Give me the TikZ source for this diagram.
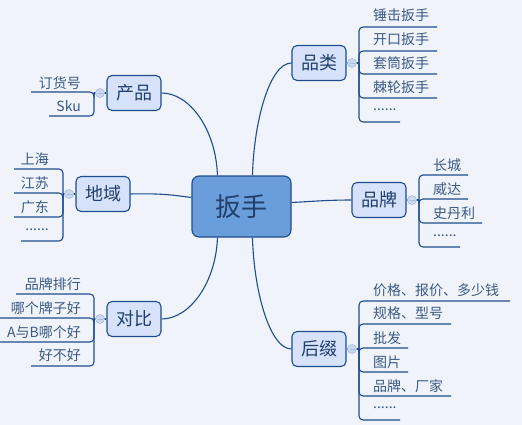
\documentclass[tikz,border=0pt]{standalone}
\usepackage{fontspec}
\newfontfamily\cjk{Noto Sans CJK SC}
\definecolor{bg}{HTML}{F0F3F9}
\definecolor{ln}{HTML}{1F4E8C}
\definecolor{mainfill}{HTML}{D5E2FA}
\definecolor{cfill}{HTML}{6A9EDA}
\definecolor{txt}{HTML}{213F6C}
\definecolor{subtxt}{HTML}{3A5A85}
\definecolor{knobfill}{HTML}{CBD8EE}
\definecolor{knobline}{HTML}{A7BCDD}
\begin{document}
\begin{tikzpicture}[x=1pt,y=-1pt,
  centre/.style={draw=ln, fill=cfill, line width=1.1pt, rounded corners=7pt, minimum width=99pt, minimum height=61pt, font=\cjk\fontsize{26}{28}\selectfont, text=txt, inner sep=0pt},
  topic/.style={draw=ln, fill=mainfill, line width=1.1pt, rounded corners=5pt, minimum width=54pt, minimum height=35pt, font=\cjk\fontsize{18}{20}\selectfont, text=txt, inner sep=0pt},
  sub/.style={font=\cjk\fontsize{14}{16}\selectfont, text=subtxt, inner sep=0pt},
  rsub/.style={sub, anchor=west},
  lsub/.style={sub, anchor=east},
  link/.style={draw=ln, line width=1.1pt},
  branch/.style={draw=ln, line width=1.1pt, rounded corners=4pt},
  knob/.style={circle, draw=knobline, fill=knobfill, minimum size=9pt, inner sep=0pt, line width=0.6pt,
    path picture={\draw[knobline, line width=0.7pt] ([xshift=2pt]path picture bounding box.west) -- ([xshift=-2pt]path picture bounding box.east);}}
]
\fill[bg] (0,0) rectangle (522,425);
\useasboundingbox (0,0) rectangle (522,425);

% main nodes
\node[centre] (c) at (241.5,206.5) {扳手};
\node[topic] (p1) at (134,93) {产品};
\node[topic] (p3) at (103,194) {地域};
\node[topic] (p5) at (134,319) {对比};
\node[topic] (p2) at (319,63) {品类};
\node[topic] (p4) at (379,200) {品牌};
\node[topic] (p6) at (319,349) {后缀};

% connectors from centre
\draw[link] (p1.east) .. controls (190,93) and (216,130) .. ([xshift=26pt]c.north west);
\draw[link] (p2.west) .. controls (270,63) and (254,120) .. ([xshift=61pt]c.north west);
\draw[link] (p3.east) .. controls (165,193) and (178,196) .. ([yshift=-22pt]c.north west);
\draw[link] (p4.west) .. controls (325,200) and (305,202) .. ([yshift=-27pt]c.north east);
\draw[link] (p5.east) .. controls (190,319) and (216,282) .. ([xshift=26pt]c.south west);
\draw[link] (p6.west) .. controls (270,349) and (254,292) .. ([xshift=61pt]c.south west);

% bracket points
\coordinate (j1) at (94,93);
\coordinate (j3) at (63,194);
\coordinate (j5) at (94,319);
\coordinate (j2) at (359,63);
\coordinate (j4) at (419,200);
\coordinate (j6) at (359,349);
\draw[link] (p1.west) -- (j1);
\draw[link] (p3.west) -- (j3);
\draw[link] (p5.west) -- (j5);
\draw[link] (p2.east) -- (j2);
\draw[link] (p4.east) -- (j4);
\draw[link] (p6.east) -- (j6);

% 产品
\node[lsub] (a1) at (81,83) {订货号};
\node[lsub] (a2) at (81,106) {Sku};
\coordinate (a1e) at (31,92);
\coordinate (a2e) at (49,116);
\draw[branch] (j1) |- (a1e);
\draw[branch] (j1) |- (a2e);

% 地域
\node[lsub] (b1) at (49,159) {上海};
\node[lsub] (b2) at (49,183) {江苏};
\node[lsub] (b3) at (49,207) {广东};
\node[lsub] (b4) at (49,230) {......};
\coordinate (b1e) at (14,169);
\coordinate (b2e) at (14,193);
\coordinate (b3e) at (14,217);
\coordinate (b4e) at (21,241);
\draw[branch] (j3) |- (b1e);
\draw[branch] (j3) |- (b2e);
\draw[branch] (j3) |- (b3e);
\draw[branch] (j3) |- (b4e);

% 对比
\node[lsub] (d1) at (81,284) {品牌排行};
\node[lsub] (d2) at (81,308) {哪个牌子好};
\node[lsub] (d3) at (81,332) {A与B哪个好};
\node[lsub] (d4) at (81,355) {好不好};
\coordinate (d1e) at (16,294);
\coordinate (d2e) at (0,318);
\coordinate (d3e) at (0,342);
\coordinate (d4e) at (31,366);
\draw[branch] (j5) |- (d1e);
\draw[branch] (j5) |- (d2e);
\draw[branch] (j5) |- (d3e);
\draw[branch] (j5) |- (d4e);

% 品类
\node[rsub] (e1) at (373,15) {锤击扳手};
\node[rsub] (e2) at (373,39) {开口扳手};
\node[rsub] (e3) at (373,63) {套筒扳手};
\node[rsub] (e4) at (373,87) {棘轮扳手};
\node[rsub] (e5) at (373,110) {......};
\coordinate (e1e) at (437,27);
\coordinate (e2e) at (437,51);
\coordinate (e3e) at (437,74);
\coordinate (e4e) at (437,98);
\coordinate (e5e) at (400,122);
\draw[branch] (j2) |- (e1e);
\draw[branch] (j2) |- (e2e);
\draw[branch] (j2) |- (e3e);
\draw[branch] (j2) |- (e4e);
\draw[branch] (j2) |- (e5e);

% 品牌
\node[rsub] (f1) at (433,165) {长城};
\node[rsub] (f2) at (433,189) {威达};
\node[rsub] (f3) at (433,213) {史丹利};
\node[rsub] (f4) at (433,236) {......};
\coordinate (f1e) at (468,175);
\coordinate (f2e) at (468,199);
\coordinate (f3e) at (482,223);
\coordinate (f4e) at (460,247);
\draw[branch] (j4) |- (f1e);
\draw[branch] (j4) |- (f2e);
\draw[branch] (j4) |- (f3e);
\draw[branch] (j4) |- (f4e);

% 后缀
\node[rsub] (g1) at (373,290) {价格、报价、多少钱};
\node[rsub] (g2) at (373,313) {规格、型号};
\node[rsub] (g3) at (373,338) {批发};
\node[rsub] (g4) at (373,362) {图片};
\node[rsub] (g5) at (373,386) {品牌、厂家};
\node[rsub] (g6) at (373,408) {......};
\coordinate (g1e) at (510,301);
\coordinate (g2e) at (451,324);
\coordinate (g3e) at (408,348);
\coordinate (g4e) at (408,372);
\coordinate (g5e) at (451,396);
\coordinate (g6e) at (400,420);
\draw[branch] (j6) |- (g1e);
\draw[branch] (j6) |- (g2e);
\draw[branch] (j6) |- (g3e);
\draw[branch] (j6) |- (g4e);
\draw[branch] (j6) |- (g5e);
\draw[branch] (j6) |- (g6e);

% collapse knobs
\node[knob] (k1) at (100,93) {};
\node[knob] (k3) at (69,194) {};
\node[knob] (k5) at (100,319) {};
\node[knob] (k2) at (352,63) {};
\node[knob] (k4) at (412,200) {};
\node[knob] (k6) at (352,349) {};
\end{tikzpicture}
\end{document}
